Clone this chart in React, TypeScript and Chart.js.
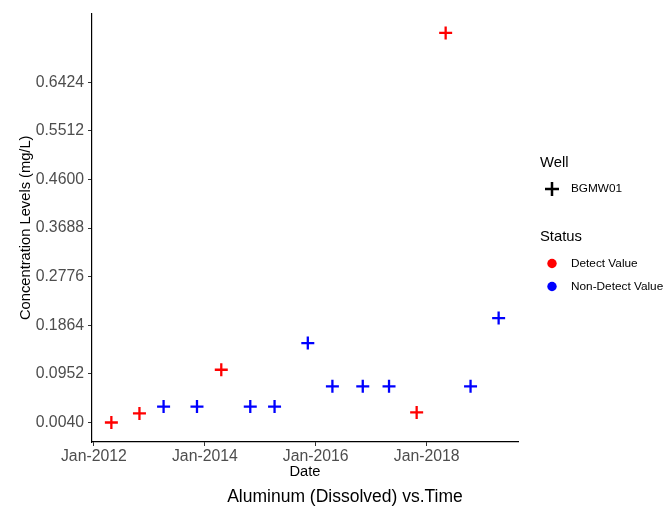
import React, { useEffect, useRef } from "react";
import { Chart, registerables } from "chart.js";

Chart.register(...registerables);

// ---- data ----
const sampleDates = [
  "2012-04-25", "2012-10-27", "2013-04-04", "2013-11-10", "2014-04-19",
  "2014-10-27", "2015-04-05", "2015-11-10", "2016-04-20", "2016-11-06",
  "2017-04-28", "2017-10-27", "2018-05-06", "2018-10-17", "2019-04-20",
];
const concentrations = [
  0.004, 0.021, 0.034, 0.034, 0.103,
  0.034, 0.034, 0.153, 0.072, 0.072,
  0.072, 0.023, 0.735, 0.072, 0.2,
];
const statuses = [
  "Detect Value", "Detect Value", "Non-Detect Value", "Non-Detect Value", "Detect Value",
  "Non-Detect Value", "Non-Detect Value", "Non-Detect Value", "Non-Detect Value", "Non-Detect Value",
  "Non-Detect Value", "Detect Value", "Detect Value", "Non-Detect Value", "Non-Detect Value",
];
const yTickValues = [0.004, 0.0952, 0.1864, 0.2776, 0.3688, 0.46, 0.5512, 0.6424];
const xTickDates = ["2012-01-01", "2014-01-01", "2016-01-01", "2018-01-01"];
const wellNames = ["BGMW01"];
const statusNames = ["Detect Value", "Non-Detect Value"];
const statusColors = ["#FF0000", "#0000FF"];
const MONTHS = ["Jan", "Feb", "Mar", "Apr", "May", "Jun", "Jul", "Aug", "Sep", "Oct", "Nov", "Dec"];
const chartTitle = "Aluminum (Dissolved) vs.Time";

const FONT = "'Liberation Sans', Arial, Helvetica, sans-serif";

function toMs(d: string) {
  return new Date(d + "T00:00:00Z").getTime();
}

export default function App() {
  const ref = useRef<HTMLCanvasElement | null>(null);

  useEffect(() => {
    if (!ref.current) return;
    const xs = sampleDates.map(toMs);
    const xMin = Math.min(...xs), xMax = Math.max(...xs);
    const xPad = (xMax - xMin) * 0.05;
    const yMin = Math.min(...concentrations), yMax = Math.max(...concentrations);
    const yPad = (yMax - yMin) * 0.05;

    const colorFor = (s: string) => statusColors[statusNames.indexOf(s)];

    const legendPlugin = {
      id: "ggLegend",
      afterDraw(chart: any) {
        const ctx = chart.ctx;
        ctx.save();
        ctx.fillStyle = "#000";
        ctx.textBaseline = "middle";
        ctx.textAlign = "center";
        ctx.font = `17.5px ${FONT}`;
        ctx.fillText(chartTitle, 345, 497);

        ctx.textAlign = "left";
        ctx.font = `14.8px ${FONT}`;
        ctx.fillText("Well", 540, 163);
        // cross
        ctx.strokeStyle = "#000";
        ctx.lineWidth = 2.5;
        ctx.beginPath();
        ctx.moveTo(545, 189); ctx.lineTo(559, 189);
        ctx.moveTo(552, 182); ctx.lineTo(552, 196);
        ctx.stroke();
        ctx.font = `11.8px ${FONT}`;
        ctx.fillText(wellNames[0], 571, 189);

        ctx.font = `14.8px ${FONT}`;
        ctx.fillText("Status", 540, 237);
        statusNames.forEach((name, i) => {
          const y = 263.5 + i * 23;
          ctx.fillStyle = statusColors[i];
          ctx.beginPath();
          ctx.arc(552, y, 4.7, 0, Math.PI * 2);
          ctx.fill();
          ctx.fillStyle = "#000";
          ctx.font = `11.8px ${FONT}`;
          ctx.fillText(name, 571, y);
        });
        ctx.restore();
      },
    };

    const chart = new Chart(ref.current, {
      type: "scatter",
      data: {
        datasets: [
          {
            label: wellNames[0],
            data: xs.map((x, i) => ({ x, y: concentrations[i] })),
            pointStyle: "cross",
            pointRadius: 6.5,
            pointHoverRadius: 6.5,
            pointBorderWidth: 2.3,
            pointBorderColor: statuses.map(colorFor),
            pointBackgroundColor: statuses.map(colorFor),
          },
        ],
      },
      options: {
        animation: false,
        responsive: false,
        events: [],
        layout: { padding: { top: 11, right: 149, bottom: 35, left: 0 } },
        plugins: {
          legend: { display: false },
          tooltip: { enabled: false },
        },
        scales: {
          x: {
            type: "linear",
            min: xMin - xPad,
            max: xMax + xPad,
            afterBuildTicks: (scale: any) => {
              scale.ticks = xTickDates.map((d) => ({ value: toMs(d) }));
            },
            afterFit: (scale: any) => {
              scale.height = 40;
            },
            ticks: {
              color: "#4D4D4D",
              font: { family: FONT, size: 15.8 },
              padding: 1,
              maxRotation: 0,
              autoSkip: false,
              callback: (v: any) => {
                const d = new Date(Number(v));
                return `${MONTHS[d.getUTCMonth()]}-${d.getUTCFullYear()}`;
              },
            },
            grid: {
              drawOnChartArea: false,
              drawTicks: true,
              tickLength: 4,
              tickColor: "#333333",
              tickWidth: 1,
            },
            border: { display: true, color: "#000", width: 1.2 },
            title: {
              display: true,
              text: "Date",
              color: "#000",
              font: { family: FONT, size: 14.7 },
              padding: { top: 0, bottom: 1 },
            },
          },
          y: {
            type: "linear",
            min: yMin - yPad,
            max: yMax + yPad,
            afterBuildTicks: (scale: any) => {
              scale.ticks = yTickValues.map((v) => ({ value: v }));
            },
            afterFit: (scale: any) => {
              scale.width = 92;
            },
            ticks: {
              color: "#4D4D4D",
              font: { family: FONT, size: 15.8 },
              padding: 4,
              autoSkip: false,
              callback: (v: any) => Number(v).toFixed(4),
            },
            grid: {
              drawOnChartArea: false,
              drawTicks: true,
              tickLength: 4,
              tickColor: "#333333",
              tickWidth: 1,
            },
            border: { display: true, color: "#000", width: 1.2 },
            title: {
              display: true,
              text: "Concentration Levels (mg/L)",
              color: "#000",
              font: { family: FONT, size: 14.7 },
              padding: { top: 17, bottom: 0 },
            },
          },
        },
      },
      plugins: [legendPlugin],
    } as any);

    return () => chart.destroy();
  }, []);

  return (
    <div style={{ position: "absolute", left: 0, top: 0, width: 667, height: 517, background: "#fff" }}>
      <canvas ref={ref} width={667} height={517} style={{ display: "block" }} />
    </div>
  );
}
